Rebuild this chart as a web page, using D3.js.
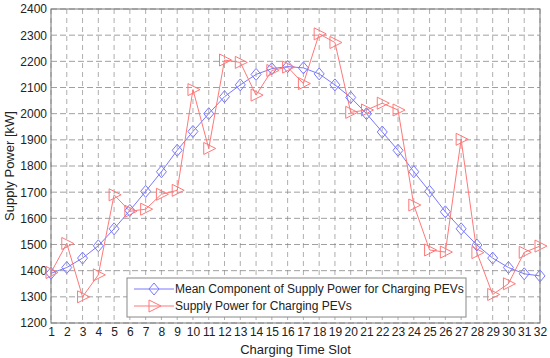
<!DOCTYPE html>
<html>
<head>
<meta charset="utf-8">
<script src="https://cdn.jsdelivr.net/npm/d3@7"></script>
<style>
  body { margin: 0; background: #fff; }
  svg { font-family: Arial, "Liberation Sans", sans-serif; }
</style>
</head>
<body>
<svg id="chart" width="550" height="358"></svg>
<script>
// time slots 1..32
var slots = d3.range( 1, 33 );
var meanPower = [ 1390, 1412, 1448, 1495, 1560, 1630, 1703, 1778, 1860, 1932, 2000, 2065,
	2110, 2150, 2172, 2180, 2175, 2152, 2110, 2062, 2000, 1930, 1860, 1778,
	1703, 1625, 1560, 1498, 1448, 1412, 1388, 1380 ];
var supplyPower = [ 1393, 1504, 1300, 1384, 1690, 1627, 1635, 1692, 1707, 2092, 1867, 2205,
	2196, 2071, 2165, 2178, 2115, 2305, 2272, 2005, 2014, 2040, 2014, 1651,
	1479, 1471, 1902, 1469, 1309, 1350, 1470, 1494 ];
var yTicks = d3.range( 1200, 2401, 100 );
var legendLabels = [ 'Mean Component of Supply Power for Charging PEVs', 'Supply Power for Charging PEVs' ];

var blue = '#7878ff';
var red = '#ff7878';

var svg = d3.select( '#chart' );
var margin = { top: 9, right: 10, bottom: 35, left: 51 };
var width = 550 - margin.left - margin.right;
var height = 358 - margin.top - margin.bottom;
var g = svg.append( 'g' )
	.attr( 'transform', 'translate(' + margin.left + ',' + margin.top + ')' );

var x = d3.scaleLinear().domain( [ 1, 32 ] ).range( [ 0, width ] );
var y = d3.scaleLinear().domain( [ 1200, 2400 ] ).range( [ height, 0 ] );

// grid
g.append( 'g' ).selectAll( 'line' )
	.data( slots )
	.enter().append( 'line' )
	.attr( 'x1', function( d ) { return x( d ); } )
	.attr( 'x2', function( d ) { return x( d ); } )
	.attr( 'y1', 0 )
	.attr( 'y2', height )
	.attr( 'stroke', '#999' )
	.attr( 'stroke-width', 0.8 )
	.attr( 'stroke-dasharray', '5,4' );

g.append( 'g' ).selectAll( 'line' )
	.data( yTicks )
	.enter().append( 'line' )
	.attr( 'x1', 0 )
	.attr( 'x2', width )
	.attr( 'y1', function( d ) { return y( d ); } )
	.attr( 'y2', function( d ) { return y( d ); } )
	.attr( 'stroke', '#888' )
	.attr( 'stroke-width', 0.8 )
	.attr( 'stroke-dasharray', '6,3' );

// box
g.append( 'rect' )
	.attr( 'width', width )
	.attr( 'height', height )
	.attr( 'fill', 'none' )
	.attr( 'stroke', '#777' );

// axes
var xAxis = g.append( 'g' )
	.attr( 'transform', 'translate(0,' + height + ')' )
	.call( d3.axisBottom( x ).tickValues( slots ).tickSize( 0 ).tickPadding( 4 ).tickFormat( d3.format( 'd' ) ) );
var yAxis = g.append( 'g' )
	.call( d3.axisLeft( y ).tickValues( yTicks ).tickSize( 0 ).tickPadding( 4 ).tickFormat( d3.format( 'd' ) ) );
[ xAxis, yAxis ].forEach( function( a ) {
	a.select( '.domain' ).remove();
	a.selectAll( 'text' ).attr( 'font-size', 12 ).attr( 'fill', '#222' )
		.attr( 'font-family', 'Arial, "Liberation Sans", sans-serif' );
} );

svg.append( 'text' )
	.attr( 'x', margin.left + width / 2 )
	.attr( 'y', 354 )
	.attr( 'text-anchor', 'middle' )
	.attr( 'font-size', 13 )
	.attr( 'fill', '#222' )
	.text( 'Charging Time Slot' );

svg.append( 'text' )
	.attr( 'transform', 'translate(14,' + ( margin.top + height / 2 ) + ') rotate(-90)' )
	.attr( 'text-anchor', 'middle' )
	.attr( 'font-size', 13 )
	.attr( 'fill', '#222' )
	.text( 'Supply Power [kW]' );

// lines
var line = d3.line()
	.x( function( d, i ) { return x( slots[ i ] ); } )
	.y( function( d ) { return y( d ); } );

g.append( 'path' ).datum( meanPower )
	.attr( 'fill', 'none' ).attr( 'stroke', blue ).attr( 'stroke-width', 1 ).attr( 'd', line );
g.append( 'path' ).datum( supplyPower )
	.attr( 'fill', 'none' ).attr( 'stroke', red ).attr( 'stroke-width', 1 ).attr( 'd', line );

function diamond( sel ) {
	sel.attr( 'd', 'M0,-6L5,0L0,6L-5,0Z' )
		.attr( 'fill', 'none' ).attr( 'stroke', blue ).attr( 'stroke-width', 1 );
}
function triangle( sel ) {
	sel.attr( 'd', 'M-5,-6L7,0L-5,6Z' )
		.attr( 'fill', 'none' ).attr( 'stroke', red ).attr( 'stroke-width', 1 );
}

g.append( 'g' ).selectAll( 'path' )
	.data( meanPower )
	.enter().append( 'path' )
	.attr( 'transform', function( d, i ) { return 'translate(' + x( slots[ i ] ) + ',' + y( d ) + ')'; } )
	.call( diamond );

g.append( 'g' ).selectAll( 'path' )
	.data( supplyPower )
	.enter().append( 'path' )
	.attr( 'transform', function( d, i ) { return 'translate(' + x( slots[ i ] ) + ',' + y( d ) + ')'; } )
	.call( triangle );

// legend
var legend = svg.append( 'g' ).attr( 'transform', 'translate(127,278)' );
legend.append( 'rect' )
	.attr( 'width', 339 )
	.attr( 'height', 39 )
	.attr( 'fill', '#fff' )
	.attr( 'stroke', '#888' );
legendLabels.forEach( function( label, i ) {
	var row = legend.append( 'g' ).attr( 'transform', 'translate(0,' + ( 11 + i * 17 ) + ')' );
	row.append( 'line' )
		.attr( 'x1', 7 ).attr( 'x2', 47 )
		.attr( 'stroke', i === 0 ? blue : red );
	row.append( 'path' )
		.attr( 'transform', 'translate(27,0)' )
		.call( i === 0 ? diamond : triangle );
	row.append( 'text' )
		.attr( 'x', 48 )
		.attr( 'dy', '0.35em' )
		.attr( 'font-size', 12 )
		.attr( 'fill', '#222' )
		.text( label );
} );
</script>
</body>
</html>
